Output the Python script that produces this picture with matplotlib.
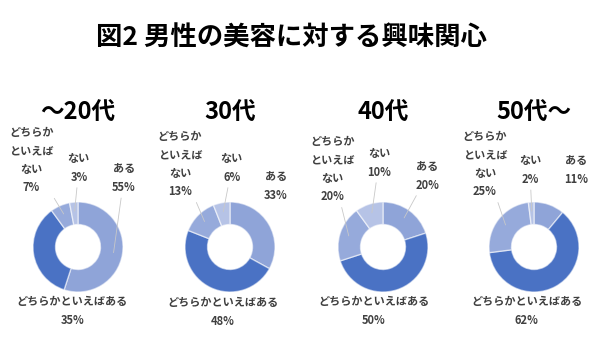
import numpy as np
import matplotlib
matplotlib.use('Agg')
import matplotlib.pyplot as plt

plt.rcParams['font.family'] = ['Noto Sans CJK JP', 'DejaVu Sans']

# 年代別の回答割合（%）
ages = ['～20代', '30代', '40代', '50代～']
categories = ['ある', 'どちらかといえばある', 'どちらかといえばない', 'ない']
label_texts = ['ある', 'どちらかといえばある', 'どちらか\nといえば\nない', 'ない']
values = [
    [55, 35, 7, 3],
    [33, 48, 13, 6],
    [20, 50, 20, 10],
    [11, 62, 25, 2],
]
colors = ['#8FA4D8', '#4A72C4', '#96AADB', '#B6C3E6']

# 各パネルの中心位置（ピクセル）とラベル位置（半径単位）
W, H = 600, 337
centers_x = [78, 230, 383, 534]
center_y = 247
radius_px = 45
label_pos = [
    [(1.02, 1.53), (-0.13, -1.42), (-1.04, 1.93), (0.02, 1.76)],
    [(1.02, 1.36), (-0.16, -1.44), (-1.11, 1.84), (0.04, 1.76)],
    [(0.98, 1.58), (-0.20, -1.42), (-1.13, 1.73), (-0.09, 1.87)],
    [(0.93, 1.71), (-0.16, -1.42), (-1.09, 1.84), (-0.09, 1.71)],
]
leaders = [
    [True, False, True, True],
    [False, False, True, True],
    [True, False, True, True],
    [False, False, True, True],
]

fig = plt.figure(figsize=(W / 100, H / 100), dpi=100)
fig.patch.set_facecolor('white')

fig.text(291 / W, 1 - 38 / H, '図2 男性の美容に対する興味関心',
         ha='center', va='center', fontsize=19, fontweight='bold', color='black')

top_px, bot_px = 88, 337
for i, age in enumerate(ages):
    cx = centers_x[i]
    left = (cx - 75) / W
    ax = fig.add_axes([left, 1 - bot_px / H, 150 / W, (bot_px - top_px) / H])

    wedges, _ = ax.pie(values[i], colors=colors, startangle=90, counterclock=False,
                       radius=1.0,
                       wedgeprops=dict(width=0.5, edgecolor=(1, 1, 1, 0.55), linewidth=1))
    # pie() が決める範囲を上書きして、全パネルで同じ縮尺にする
    ax.set_xlim(-75 / radius_px, 75 / radius_px)
    ax.set_ylim(-(bot_px - center_y) / radius_px, (center_y - top_px) / radius_px)
    ax.set_aspect('equal')
    ax.axis('off')

    ax.text(0, (center_y - 113) / radius_px, age, ha='center', va='center',
            fontsize=17, fontweight='bold', color='black')

    for j, w in enumerate(wedges):
        mid = np.deg2rad((w.theta1 + w.theta2) / 2)
        tx, ty = label_pos[i][j]
        txt = f'{label_texts[j]}\n{values[i][j]}%'
        kw = dict(ha='center', va='center', fontsize=8, fontweight='bold',
                  color='#404040', linespacing=1.55, multialignment='center')
        if leaders[i][j]:
            ax.annotate(txt, xy=(0.8 * np.cos(mid), 0.8 * np.sin(mid)), xytext=(tx, ty),
                        arrowprops=dict(arrowstyle='-', color='#C8C8C8', lw=0.6,
                                        shrinkA=1, shrinkB=0), **kw)
        else:
            ax.text(tx, ty, txt, **kw)

fig.savefig('out.png', dpi=100, facecolor='white')
